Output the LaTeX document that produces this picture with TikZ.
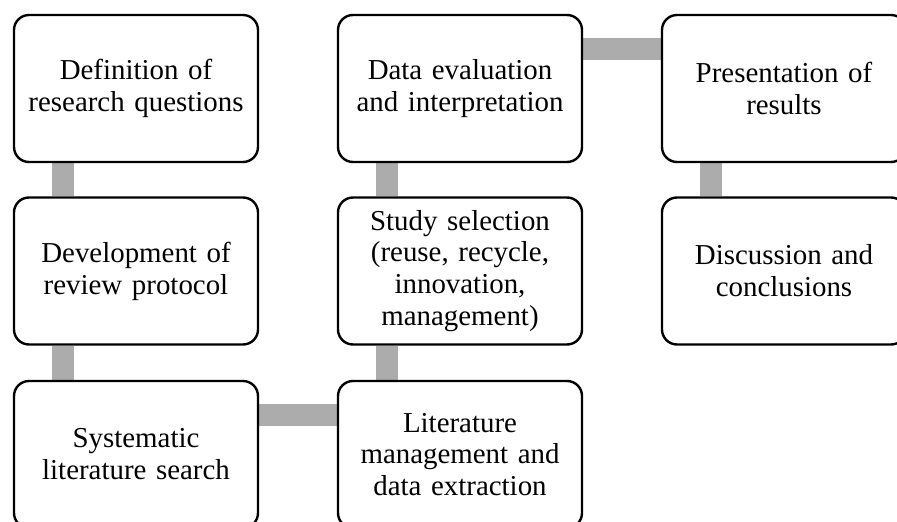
\documentclass[tikz,border=0pt]{standalone}
\usepackage{fontspec}
\setmainfont{Liberation Serif}
\usetikzlibrary{backgrounds}
\begin{document}
\begin{tikzpicture}[x=1bp,y=-1bp,
  stepbox/.style={draw=black,fill=white,line width=2.4bp,rounded corners=15bp,
    minimum width=244bp,minimum height=147bp,inner sep=0pt,align=center,
    text width=238bp,font=\fontsize{29}{32}\selectfont},
  conn/.style={draw=gray!65,line width=22bp}]
\useasboundingbox (0,0) rectangle (897,522);
\clip (0,0) rectangle (897,522);
\node[stepbox] (b1) at (136,88.5) {Definition of\\research questions};
\node[stepbox] (b2) at (136,271) {Development of\\review protocol};
\node[stepbox] (b3) at (136,454.5) {Systematic\\literature search};
\node[stepbox] (b4) at (460,454.5) {Literature\\management and\\data extraction};
\node[stepbox] (b5) at (460,271) {Study selection\\(reuse, recycle,\\innovation,\\management)};
\node[stepbox] (b6) at (460,88.5) {Data evaluation\\and interpretation};
\node[stepbox] (b7) at (784,88.5) {Presentation of\\results};
\node[stepbox] (b8) at (784,271) {Discussion and\\conclusions};
\begin{scope}[on background layer]
\path[conn] ([xshift=50bp]b1.south west) -- ([xshift=50bp]b2.north west);
\path[conn] ([xshift=50bp]b2.south west) -- ([xshift=50bp]b3.north west);
\path[conn] ([yshift=-35bp]b3.north east) -- ([yshift=-35bp]b4.north west);
\path[conn] ([xshift=50bp]b4.north west) -- ([xshift=50bp]b5.south west);
\path[conn] ([xshift=50bp]b5.north west) -- ([xshift=50bp]b6.south west);
\path[conn] ([yshift=-35bp]b6.north east) -- ([yshift=-35bp]b7.north west);
\path[conn] ([xshift=50bp]b7.south west) -- ([xshift=50bp]b8.north west);
\end{scope}
\end{tikzpicture}
\end{document}
